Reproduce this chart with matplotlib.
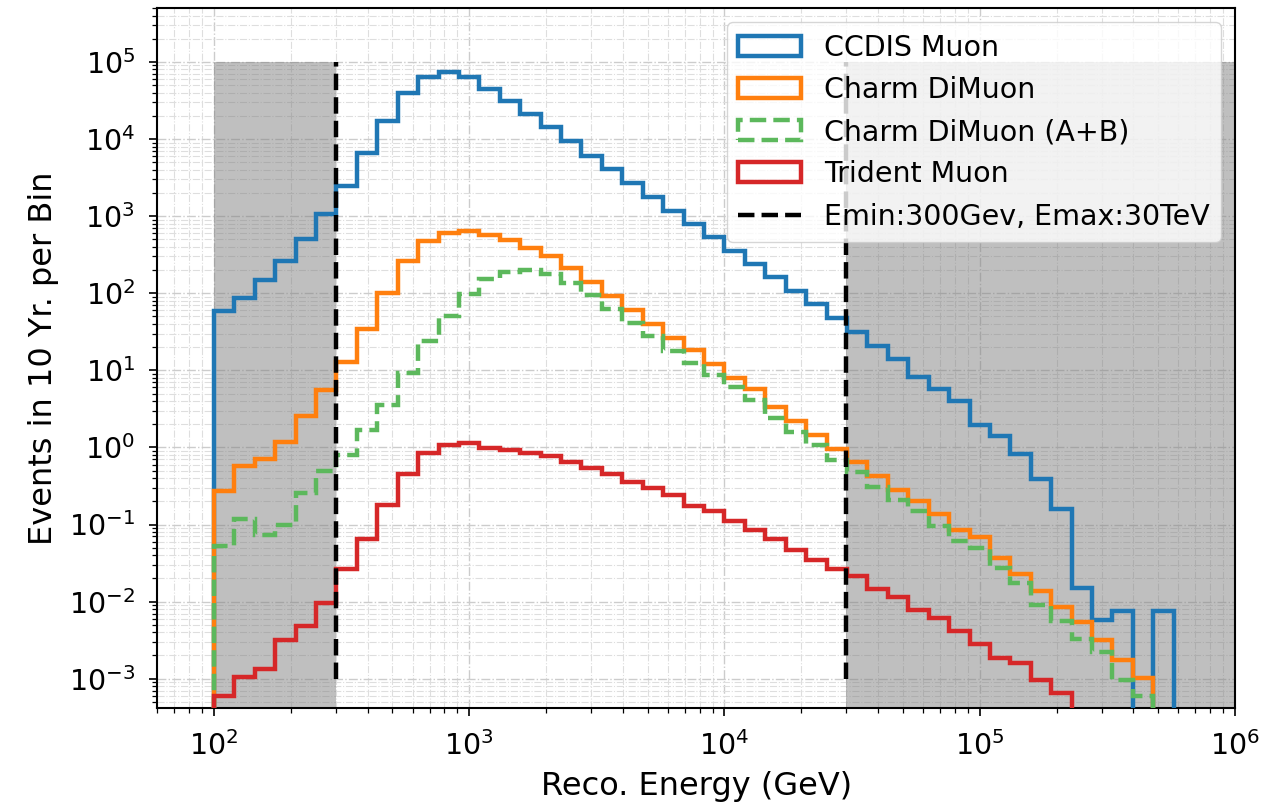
import numpy as np
import matplotlib
matplotlib.use("Agg")
import matplotlib.pyplot as plt
from matplotlib.ticker import LogLocator, NullFormatter

# Reconstructed energy binning: 50 log-spaced bins from 100 GeV to 1 PeV
edges = np.logspace(2, 6, 51)

ccdis_muon = [
    58, 86, 149, 264, 502, 1065, 2470, 6500, 17300, 39000,
    63000, 73500, 63000, 44700, 31600, 21000, 14200, 9500, 6050, 4070,
    2680, 1745, 1170, 790, 530, 355, 239, 160, 107, 72,
    48, 31, 20.7, 13.9, 8.3, 5.8, 4.0, 1.93, 1.40, 0.81,
    0.39, 0.16, 0.015, 0.0058, 0.0075, 0, 0.0076, 0, 0, 0,
]
charm_dimuon = [
    0.27, 0.57, 0.71, 1.17, 2.55, 5.55, 12.8, 34, 102, 264,
    480, 610, 645, 565, 490, 390, 305, 210, 140, 92,
    61, 40, 26, 18.2, 12.0, 7.9, 5.7, 3.3, 2.2, 1.45,
    0.95, 0.65, 0.42, 0.28, 0.20, 0.135, 0.086, 0.069, 0.037, 0.023,
    0.0136, 0.0085, 0.0054, 0.0032, 0.00173, 0.00102, 0, 0, 0, 0,
]
charm_dimuon_ab = [
    0.053, 0.119, 0.074, 0.10, 0.26, 0.50, 0.79, 1.68, 3.55, 9.1,
    24, 51, 97, 153, 186, 200, 177, 135, 94, 63,
    41.5, 28, 17.8, 12.6, 8.6, 6.0, 4.1, 2.43, 1.58, 1.06,
    0.68, 0.48, 0.31, 0.205, 0.149, 0.097, 0.062, 0.050, 0.027, 0.0175,
    0.0091, 0.0056, 0.0033, 0.0022, 0.00097, 0.00060, 0, 0, 0, 0,
]
trident_muon = [
    0.0006, 0.00105, 0.00134, 0.0032, 0.0048, 0.0096, 0.0266, 0.065, 0.177, 0.45,
    0.84, 1.09, 1.15, 0.99, 0.92, 0.85, 0.77, 0.65, 0.545, 0.45,
    0.355, 0.30, 0.238, 0.173, 0.149, 0.110, 0.086, 0.065, 0.047, 0.035,
    0.0266, 0.0214, 0.0146, 0.0115, 0.0078, 0.0061, 0.0042, 0.0028, 0.00185, 0.0016,
    0.00097, 0.00066, 0, 0, 0, 0, 0, 0, 0, 0,
]

e_min, e_max = 300, 30000
band_top = 1e5
x_limits = (60, 1e6)
y_limits = (4.2e-4, 5e5)

fig = plt.figure(figsize=(12.68, 8.07), dpi=100)
ax = fig.add_axes([0.124, 0.123, 0.850, 0.867])

centers = np.sqrt(edges[:-1] * edges[1:])
series = [
    (ccdis_muon, "CCDIS Muon", "#1f77b4", "-"),
    (charm_dimuon, "Charm DiMuon", "#ff7f0e", "-"),
    (charm_dimuon_ab, "Charm DiMuon (A+B)", "#5cb85c", "--"),
    (trident_muon, "Trident Muon", "#d62728", "-"),
]
for vals, label, color, ls in series:
    ax.hist(centers, bins=edges, weights=vals, histtype="step", log=True,
            color=color, linestyle=ls, linewidth=3.2, label=label, zorder=3)

# Regions outside the energy window
band_y0 = 1e-12
ax.fill_between([edges[0], e_min], band_y0, band_top, color="gray", alpha=0.5,
                linewidth=0, zorder=1)
ax.fill_between([e_max, edges[-1]], band_y0, band_top, color="gray", alpha=0.5,
                linewidth=0, zorder=1)
ax.vlines([e_min, e_max], 1e-3, band_top, colors="k", linestyles="--",
          linewidth=3.2, label="Emin:300Gev, Emax:30TeV", zorder=4)

ax.set_xscale("log")
ax.set_yscale("log")
ax.set_xlim(*x_limits)
ax.set_ylim(*y_limits)

ax.yaxis.set_major_locator(LogLocator(base=10, numticks=20))
ax.yaxis.set_minor_locator(LogLocator(base=10, subs=np.arange(2, 10), numticks=20))
ax.yaxis.set_minor_formatter(NullFormatter())
ax.xaxis.set_major_locator(LogLocator(base=10, numticks=20))
ax.xaxis.set_minor_locator(LogLocator(base=10, subs=np.arange(2, 10), numticks=20))
ax.xaxis.set_minor_formatter(NullFormatter())

ax.set_axisbelow(True)
ax.grid(True, which="major", linestyle="-.", color="0.80", linewidth=1.0)
ax.grid(True, which="minor", linestyle="-.", color="0.87", linewidth=0.8)

ax.tick_params(axis="both", which="major", labelsize=20.5, length=6, width=1.2)
ax.tick_params(axis="y", which="major", pad=10)
ax.tick_params(axis="x", which="major", pad=11)
ax.tick_params(axis="both", which="minor", length=3.5, width=0.9)
for s in ax.spines.values():
    s.set_linewidth(1.5)

ax.set_xlabel("Reco. Energy (GeV)", fontsize=23, labelpad=7)
ax.set_ylabel("Events in 10 Yr. per Bin", fontsize=23, labelpad=7)

ax.legend(loc="upper right", fontsize=20.5, handlelength=2.2,
          borderaxespad=0.5, framealpha=0.8)

fig.savefig("out.png", dpi=100)
